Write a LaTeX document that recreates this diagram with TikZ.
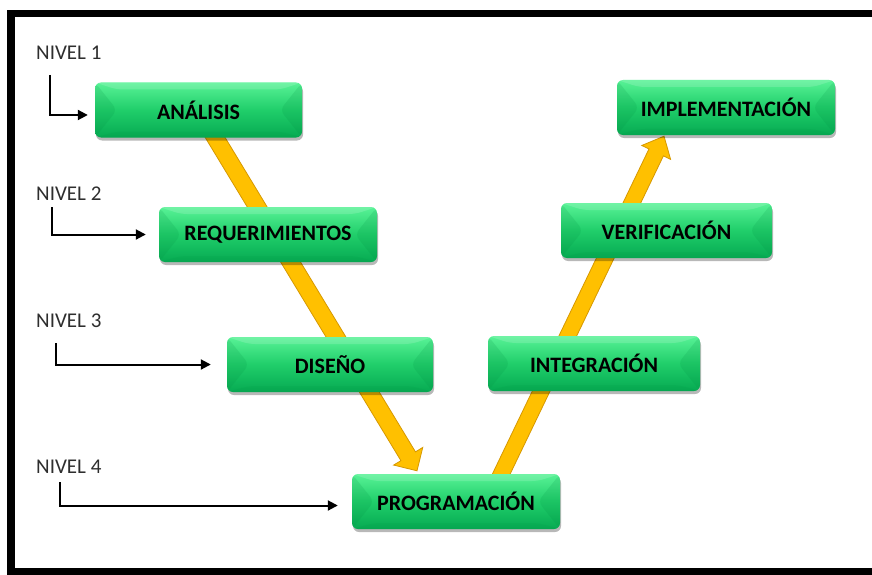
\documentclass[tikz,border=0pt]{standalone}
\usepackage{fontspec}
\setmainfont{Carlito}
\usetikzlibrary{arrows.meta,calc,shadows}
\pgfdeclarelayer{paper}
\pgfdeclarelayer{flowlayer}
\pgfsetlayers{paper,flowlayer,main}

\definecolor{boxtop}{RGB}{88,242,150}
\definecolor{boxmid}{RGB}{32,206,106}
\definecolor{boxbot}{RGB}{6,170,82}
\definecolor{bevel}{RGB}{0,140,64}
\definecolor{flow}{RGB}{255,192,0}
\definecolor{flowedge}{RGB}{214,152,0}

\tikzset{
  stage/.style={rounded corners=6pt, minimum height=55pt, inner sep=0pt,
    top color=boxtop, bottom color=boxbot, middle color=boxmid,
    text=black, font=\fontsize{22}{26}\selectfont\bfseries,
    drop shadow={shadow xshift=1pt, shadow yshift=-3pt, opacity=0.28, fill=black},
    path picture={
      \fill[bevel, opacity=0.15]
        (path picture bounding box.north west) -- ([xshift=22pt]path picture bounding box.west)
        -- (path picture bounding box.south west) -- cycle;
      \fill[bevel, opacity=0.15]
        (path picture bounding box.north east) -- ([xshift=-22pt]path picture bounding box.east)
        -- (path picture bounding box.south east) -- cycle;
      \fill[white, opacity=0.15]
        (path picture bounding box.north west) -- (path picture bounding box.north east)
        -- ([xshift=-22pt,yshift=-7pt]path picture bounding box.north east)
        -- ([xshift=22pt,yshift=-7pt]path picture bounding box.north west) -- cycle;
      \fill[bevel, opacity=0.10]
        (path picture bounding box.south west) -- (path picture bounding box.south east)
        -- ([xshift=-22pt,yshift=6pt]path picture bounding box.south east)
        -- ([xshift=22pt,yshift=6pt]path picture bounding box.south west) -- cycle;
    }},
  lvltext/.style={anchor=base west, inner sep=0pt, text=black!82,
    font=\fontsize{21}{25}\selectfont},
  lvlarrow/.style={line width=2pt, black, -{Triangle[length=10pt,width=10pt]}},
  flowarrow/.style={fill=flow, draw=flowedge, line width=0.8pt, line join=miter}
}

\begin{document}
\begin{tikzpicture}[x=1pt, y=-1pt]
  \useasboundingbox (0,0) rectangle (872,575);
  \begin{pgfonlayer}{paper}
    \fill[white] (0,0) rectangle (872,575);
  \end{pgfonlayer}

  % frame
  \fill[black] (7,10) rectangle (872,17);
  \fill[black] (7,10) rectangle (15,575);
  \fill[black] (7,568) rectangle (872,575);

  % stages
  \node[stage, minimum width=207pt] (analisis)       at (198.5,110)   {ANÁLISIS};
  \node[stage, minimum width=218pt] (requerimientos) at (268,234.5)   {REQUERIMIENTOS};
  \node[stage, minimum width=206pt] (diseno)         at (330,364.5)   {DISEÑO};
  \node[stage, minimum width=208pt] (programacion)   at (456,501.5)   {PROGRAMACIÓN};
  \node[stage, minimum width=212pt] (integracion)    at (594,363.5)   {INTEGRACIÓN};
  \node[stage, minimum width=211pt] (verificacion)   at (666.5,230.5) {VERIFICACIÓN};
  \node[stage, minimum width=218pt] (implementacion) at (726,107.5)   {IMPLEMENTACIÓN};

  % flow arrows, kept behind the stages
  \coordinate (ldown) at ($(programacion.north)+(-39,-3)$);
  \coordinate (rstart) at ($(programacion.center)+(32,0)$);
  \coordinate (rup) at ($(implementacion.south)+(-62,1)$);
  \path ($(ldown)!17pt!(analisis.center)$) coordinate (lhead);
  \path ($(rup)!18pt!(rstart)$) coordinate (rhead);
  \begin{pgfonlayer}{flowlayer}
    \path[flowarrow]
      ($(analisis.center)!8.5pt!90:(ldown)$) -- ($(lhead)!8.5pt!90:(ldown)$)
      -- ($(lhead)!17pt!90:(ldown)$) -- (ldown) -- ($(lhead)!17pt!-90:(ldown)$)
      -- ($(lhead)!8.5pt!-90:(ldown)$) -- ($(analisis.center)!8.5pt!-90:(ldown)$) -- cycle;
    \path[flowarrow]
      ($(rstart)!8pt!90:(rup)$) -- ($(rhead)!8pt!90:(rup)$)
      -- ($(rhead)!16pt!90:(rup)$) -- (rup) -- ($(rhead)!16pt!-90:(rup)$)
      -- ($(rhead)!8pt!-90:(rup)$) -- ($(rstart)!8pt!-90:(rup)$) -- cycle;
  \end{pgfonlayer}

  % level labels
  \node[lvltext] (n1) at (36,60)  {NIVEL 1};
  \node[lvltext] (n2) at (36,200) {NIVEL 2};
  \node[lvltext] (n3) at (36,327) {NIVEL 3};
  \node[lvltext] (n4) at (36,473) {NIVEL 4};

  \coordinate (c1) at (49.5,75);
  \coordinate (c2) at (52,207);
  \coordinate (c3) at (56,343);
  \coordinate (c4) at (60,482);
  \coordinate (t1) at ($(analisis.west)+(-7,5)$);
  \coordinate (t2) at ($(requerimientos.west)+(-13,0)$);
  \coordinate (t3) at ($(diseno.west)+(-16,0)$);
  \coordinate (t4) at ($(programacion.west)+(-14,4)$);

  \draw[lvlarrow] (c1) |- (t1);
  \draw[lvlarrow] (c2) |- (t2);
  \draw[lvlarrow] (c3) |- (t3);
  \draw[lvlarrow] (c4) |- (t4);
\end{tikzpicture}
\end{document}
